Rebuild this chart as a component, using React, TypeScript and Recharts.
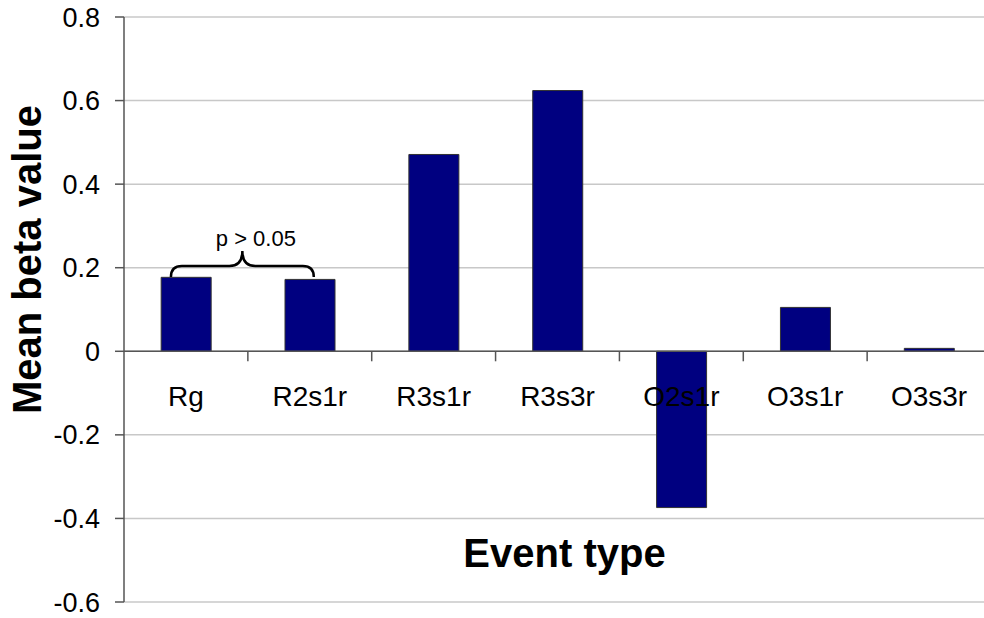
import React from 'react';
import { BarChart, Bar, XAxis, YAxis, CartesianGrid, ReferenceLine } from 'recharts';

const categories = ['Rg', 'R2s1r', 'R3s1r', 'R3s3r', 'O2s1r', 'O3s1r', 'O3s3r'];
const meanBeta = [0.177, 0.172, 0.471, 0.624, -0.374, 0.105, 0.007];
const yTicks = [-0.6, -0.4, -0.2, 0, 0.2, 0.4, 0.6, 0.8];
const yDomain: [number, number] = [-0.6, 0.8];
const braceLevel = 0.204;
const braceText = 'p > 0.05';

const data = categories.map((name, i) => ({ name, value: meanBeta[i] }));

const FONT = '"Liberation Sans", Arial, sans-serif';
const CHART_W = 1000;
const CHART_H = 618;
const MARGIN = { top: 17, right: 9, bottom: 0, left: 0 };
const YAXIS_W = 124;
const XAXIS_H = 16;
const PLOT_H = CHART_H - MARGIN.top - MARGIN.bottom - XAXIS_H;
const PLOT_W = CHART_W - MARGIN.left - MARGIN.right - YAXIS_W;
const ZERO_Y = MARGIN.top + (PLOT_H * (yDomain[1] - 0)) / (yDomain[1] - yDomain[0]);
const BAND = PLOT_W / categories.length;

const CategoryTick = (props: any) => {
  const { x, payload, index } = props;
  const isLast = index === categories.length - 1;
  return (
    <g>
      {index > 0 && (
        <line x1={x - BAND / 2} x2={x - BAND / 2} y1={ZERO_Y} y2={ZERO_Y + 10} stroke="#555" strokeWidth={1.5} />
      )}
      {isLast && (
        <line x1={x + BAND / 2} x2={x + BAND / 2} y1={ZERO_Y} y2={ZERO_Y + 10} stroke="#555" strokeWidth={1.5} />
      )}
      <text x={x} y={ZERO_Y + 55} textAnchor="middle" fontSize={28} fontFamily={FONT} fill="#000">
        {payload.value}
      </text>
    </g>
  );
};

const Brace = (p: any) => {
  const { x1, y1, x2 } = p;
  if (x1 == null || y1 == null) return null;
  const L = x1 - 15;
  const R = x2 + 4;
  const yh = y1;
  const ye = yh + 11;
  const yt = yh - 15;
  const M = (L + R) / 2;
  const r = 11;
  const d = `M ${L} ${ye} Q ${L} ${yh} ${L + r} ${yh} L ${M - 13} ${yh} Q ${M} ${yh} ${M} ${yt} Q ${M} ${yh} ${M + 13} ${yh} L ${R - r} ${yh} Q ${R} ${yh} ${R} ${ye}`;
  return (
    <g>
      <path d={d} fill="none" stroke="#000" strokeWidth={2.5} />
      <text x={(x1 + x2) / 2 + 8} y={yh - 20} textAnchor="middle" fontSize={22} fontFamily={FONT} fill="#000">
        {braceText}
      </text>
    </g>
  );
};

const YTitle = (props: any) => {
  const vb = props.viewBox || { x: 0, y: MARGIN.top, width: YAXIS_W, height: PLOT_H };
  const cx = vb.x + 27;
  const cy = vb.y + vb.height / 2 - 50;
  return (
    <text
      x={cx}
      y={cy}
      transform={`rotate(-90 ${cx} ${cy})`}
      textAnchor="middle"
      dominantBaseline="central"
      fontSize={40}
      fontWeight="bold"
      fontFamily={FONT}
      fill="#000"
    >
      Mean beta value
    </text>
  );
};

const XTitle = (props: any) => {
  const vb = props.viewBox || { x: YAXIS_W, y: CHART_H - XAXIS_H, width: PLOT_W, height: XAXIS_H };
  return (
    <text
      x={vb.x + vb.width / 2 + 7}
      y={vb.y - 35}
      textAnchor="middle"
      fontSize={40}
      fontWeight="bold"
      fontFamily={FONT}
      fill="#000"
    >
      Event type
    </text>
  );
};

export default function App() {
  return (
    <div
      style={{
        position: 'fixed',
        top: 0,
        left: 0,
        width: 984,
        height: 618,
        overflow: 'hidden',
        background: '#fff',
      }}
    >
      <BarChart width={CHART_W} height={CHART_H} data={data} margin={MARGIN} barCategoryGap="30%">
        <CartesianGrid horizontal vertical={false} stroke="#c8c8c8" strokeWidth={1.5} />
        <XAxis
          dataKey="name"
          height={XAXIS_H}
          axisLine={false}
          tickLine={false}
          interval={0}
          tick={<CategoryTick />}
          label={<XTitle />}
        />
        <YAxis
          width={YAXIS_W}
          domain={yDomain}
          ticks={yTicks}
          interval={0}
          allowDataOverflow
          tickFormatter={(v: number) => (v === 0 ? '0' : v.toFixed(1))}
          tick={{ fontSize: 27, fill: '#000', fontFamily: FONT }}
          tickSize={9}
          tickMargin={15}
          axisLine={{ stroke: '#555', strokeWidth: 1.5 }}
          tickLine={{ stroke: '#555', strokeWidth: 1.5 }}
          label={<YTitle />}
        />
        <Bar dataKey="value" fill="#000080" stroke="#333" strokeWidth={1} isAnimationActive={false} />
        <ReferenceLine y={0} stroke="#555" strokeWidth={1.5} />
        <ReferenceLine
          segment={[
            { x: categories[0], y: braceLevel },
            { x: categories[1], y: braceLevel },
          ]}
          shape={<Brace />}
        />
      </BarChart>
    </div>
  );
}
